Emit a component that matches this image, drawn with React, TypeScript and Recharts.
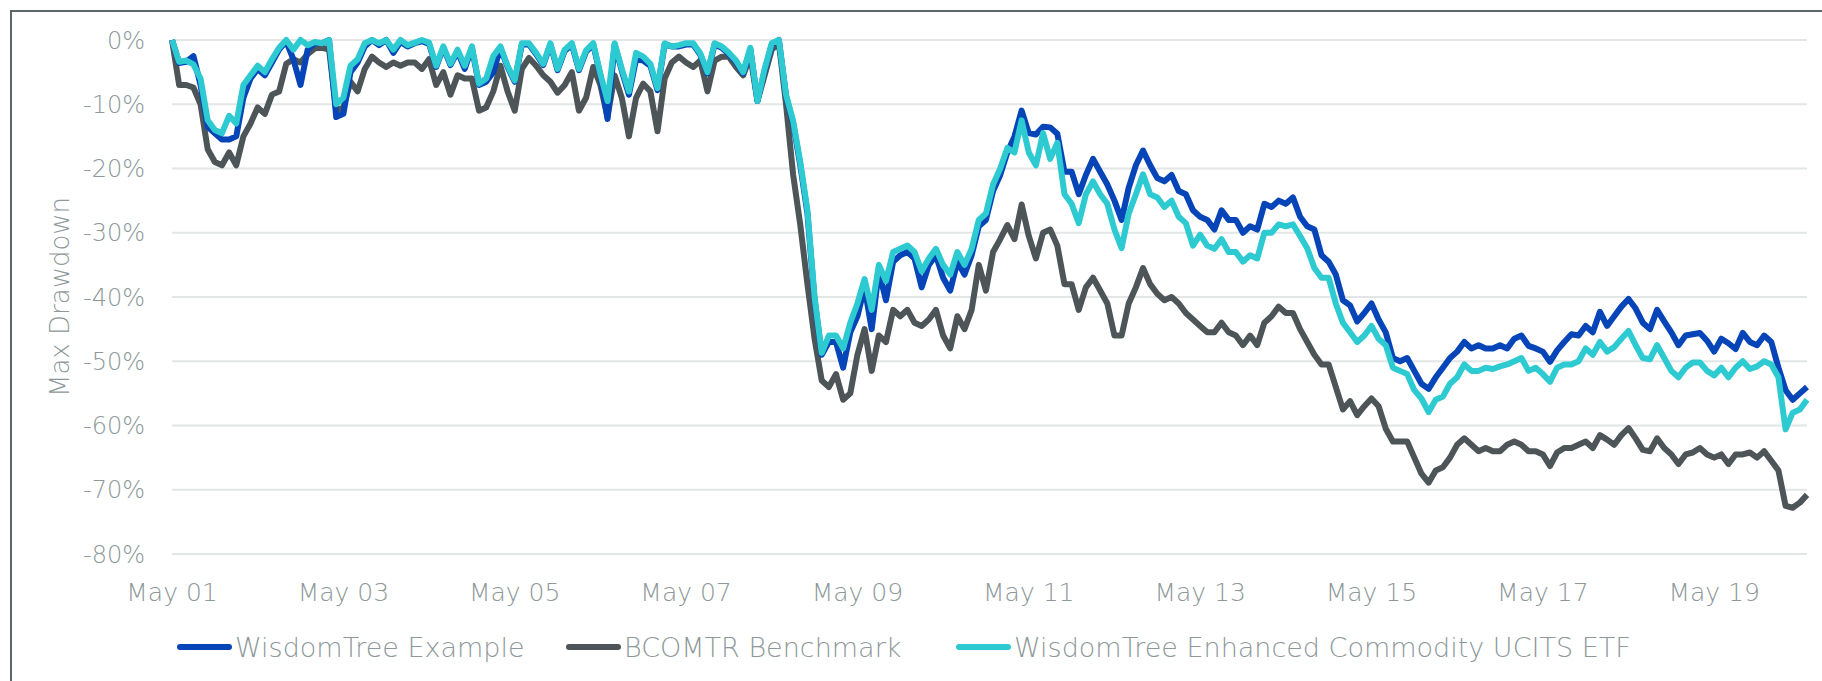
import { LineChart, Line, XAxis, YAxis, CartesianGrid, Legend } from "recharts";

// months since May 2001, tick every two years
const tickMonths = [0, 24, 48, 72, 96, 120, 144, 168, 192, 216];
const tickLabels = ["May 01", "May 03", "May 05", "May 07", "May 09", "May 11", "May 13", "May 15", "May 17", "May 19"];
const yTicks = [0, -10, -20, -30, -40, -50, -60, -70, -80];

const seriesNames = ["WisdomTree Example", "BCOMTR Benchmark", "WisdomTree Enhanced Commodity UCITS ETF"];
const seriesColors = ["#0645b7", "#4d5558", "#2ecad2"];

// monthly max drawdown, %
const example = [
  0, -3.6, -3.4, -2.5, -7, -13.5, -14.5, -15.5, -15.5, -15, -9, -6, -4.5, -5.5, -3.5, -1.5, -0.2, -3, -7, -1.5, -0.5, -0.5, 0, -12, -11.5, -5, -3.5, -1, 0, -0.8, 0, -2, -0.3, -1, -0.5, -0.2, -0.6, -4.2, -1.2, -3.9, -1.8, -4.5,
  -1.2, -7, -6.5, -5, -1.2, -4.2, -6.5, -0.7, -0.7, -2.2, -3.9, -0.7, -4.7, -1.7, -0.7, -4.7, -1.8, -0.7, -5.5, -12.3, -0.7, -4.8, -8.5, -3, -3.2, -4, -7.8, -0.7, -1, -1, -0.7, -0.7, -2.3, -5.2, -0.7, -1.2, -2.2, -3.4, -5.2, -1.4, -9.5, -4.8,
  -0.7, 0, -8.7, -13, -19.5, -27, -40.5, -49, -47, -47, -51, -45.5, -43, -38.5, -45, -36, -40.5, -34.5, -33.5, -33, -34, -38.5, -35, -33.5, -37, -39, -34.5, -36.5, -33.5, -29, -28, -23.5, -21, -17.5,
  -15, -11, -14.5, -14.7, -13.5, -13.6, -14.6, -20.5, -20.5, -24, -21, -18.5, -20.5, -22.5, -25, -28, -23, -19.5, -17.2, -19.5, -21.5, -22, -21, -23.5, -24, -26.5, -27.5, -28, -29.5, -26.5, -28, -28, -30, -29, -29.5, -25.5, -26, -25, -25.5, -24.5, -27.5,
  -29, -29.5, -33.5, -34.5, -36.5, -40.5, -41.3, -43.8, -42.5, -41, -43.5, -45.5, -49.5, -50, -49.5, -51.5, -53.5, -54.3, -52.5, -51, -49.5, -48.5, -47, -48, -47.5, -48, -48, -47.5, -48, -46.5, -46, -47.6, -48, -48.5, -50.1, -48.3, -47,
  -45.8, -46, -44.5, -45.5, -42.3, -44.5, -43, -41.5, -40.3, -41.8, -44, -45, -42, -43.8, -45.5, -47.5, -46, -45.8, -45.6, -46.8, -48.5, -46.5, -47.2, -48.1, -45.6, -47, -47.5, -46, -47, -51, -54.5, -56, -55, -54,
];

const benchmark = [
  0, -7, -7, -7.4, -10, -17, -19, -19.5, -17.5, -19.5, -15, -13, -10.5, -11.5, -8.5, -8, -3.7, -3, -3.5, -2.2, -1.3, -1.2, -1.5, -11, -10.5, -6.5, -8, -4.5, -2.6, -3.5, -4.2, -3.5, -4, -3.5, -3.5, -4.5, -3, -7, -5, -8.5, -5.5, -6,
  -6, -11, -10.5, -8, -4, -8, -11, -4.5, -2.8, -4, -5.5, -6.5, -8.2, -7, -5, -11, -9, -4.2, -7, -12, -5.5, -9, -15, -9, -6.8, -8, -14.2, -6, -3.5, -2.6, -3.5, -4.2, -3.2, -8, -3.2, -2.6, -2.6, -4.2, -5.5, -2.5, -9.5, -5.5,
  -1.5, -0.5, -10, -21, -28.8, -38, -46.5, -53, -54, -52, -56, -55, -49, -45, -51.5, -46, -47, -42, -43, -42, -44, -44.5, -43.5, -42, -46, -48, -43, -45, -42, -35, -39, -33, -31, -28.8,
  -31, -25.6, -30.5, -34, -30, -29.5, -32, -38, -38, -42, -38.5, -37, -39, -41, -46, -46, -41, -38.5, -35.5, -38, -39.5, -40.5, -40, -41, -42.5, -43.5, -44.5, -45.5, -45.5, -44, -45.5, -46, -47.5, -46, -47.5, -44, -43, -41.5, -42.5, -42.5, -45,
  -47, -49, -50.5, -50.5, -54, -57.5, -56.2, -58.4, -57, -55.8, -57, -60.5, -62.5, -62.5, -62.5, -65, -67.5, -68.9, -67, -66.5, -65, -63, -62, -63, -64, -63.5, -64, -64, -63, -62.5, -63, -64, -64, -64.5, -66.3, -64.2, -63.5,
  -63.5, -63, -62.5, -63.5, -61.5, -62.2, -63, -61.5, -60.4, -62, -63.8, -64, -62, -63.5, -64.5, -66, -64.5, -64.2, -63.5, -64.5, -65, -64.5, -66, -64.5, -64.5, -64.2, -65, -64, -65.5, -67, -72.5, -72.8, -72, -70.8,
];

const enhanced = [
  0, -3.4, -3.2, -3.8, -6, -12.5, -14, -14.5, -11.8, -13, -7, -5.5, -4, -5, -3, -1.2, 0, -1.5, 0, -0.8, -0.3, -0.5, 0, -10, -9, -4, -3, -0.5, 0, -0.5, 0, -1.5, 0, -0.8, -0.4, 0, -0.4, -4, -1, -3.7, -1.5, -4,
  -1, -6.8, -6, -2.5, -1, -4, -6.3, -0.5, -0.5, -2, -3.7, -0.5, -4.5, -1.5, -0.5, -4.5, -1.6, -0.5, -5.3, -9.5, -0.5, -4.5, -8, -2, -2.6, -3.7, -7.5, -0.5, -1, -0.8, -0.5, -0.5, -2.1, -5, -0.5, -1, -2, -3.2, -5, -1.2, -9.5, -4.5,
  -0.5, 0, -8.5, -12.6, -19, -26.5, -40, -48.7, -46, -46, -48, -44, -41, -37.2, -42, -35, -37.5, -33, -32.5, -32, -33, -36, -34, -32.5, -35, -36.5, -33, -35, -32.5, -28, -27, -22.5, -20, -16.8,
  -17.5, -12.5, -17.5, -19.5, -14.5, -18.5, -16, -24, -25.5, -28.5, -24, -22, -24, -25.5, -29.5, -32.4, -27, -24, -20.9, -24, -24.5, -26, -25, -27.5, -28.5, -32, -30.3, -32, -32.5, -31, -33, -33, -34.5, -33.5, -34, -30, -30, -28.7, -29, -28.7, -30.5,
  -32.4, -35.5, -37, -37, -41, -44, -45.5, -47, -46, -44.5, -46.5, -47.5, -51, -51.5, -52, -54.5, -55.8, -57.9, -56, -55.5, -53.5, -52.5, -50.5, -51.5, -51.5, -51, -51.2, -50.8, -50.5, -50, -49.5, -51.5, -51, -52, -53.2, -51, -50.5,
  -50.5, -50, -48, -49, -47, -48.5, -47.8, -46.5, -45.3, -47.5, -49.5, -49.7, -47.5, -49.5, -51.5, -52.5, -51, -50.2, -50.2, -51.5, -52.2, -51, -52.5, -51, -50, -51.2, -50.8, -50, -50.5, -52.5, -60.6, -58, -57.5, -56,
];

const data = example.map((v, i) => ({
  month: i,
  example: v,
  benchmark: benchmark[i],
  enhanced: enhanced[i],
}));

const FONT = "'DejaVu Sans', sans-serif";
const TEXT = "#8d989a";

const legendLeft = [177, 566, 956];

const LegendBox = () => (
  <div style={{ position: "relative", width: 1822, height: 36, fontFamily: FONT, fontWeight: 200 }}>
    {seriesNames.map((name, i) => (
      <div
        key={name}
        style={{ position: "absolute", left: legendLeft[i], top: 0, height: 36, display: "flex", alignItems: "center", whiteSpace: "nowrap" }}
      >
        <span style={{ display: "inline-block", width: 55, height: 6, borderRadius: 3, background: seriesColors[i] }} />
        <span style={{ marginLeft: 3, fontSize: 27, color: TEXT }}>{name}</span>
      </div>
    ))}
  </div>
);

const YLabel = (props: any) => {
  const vb = props.viewBox || {};
  const cy = (vb.y || 0) + (vb.height || 0) / 2;
  return (
    <text
      x={60}
      y={cy}
      transform={`rotate(-90 60 ${cy})`}
      textAnchor="middle"
      dominantBaseline="central"
      fill={TEXT}
      fontSize={26}
      fontFamily={FONT}
      fontWeight={200}
    >
      Max Drawdown
    </text>
  );
};

export default function App() {
  return (
    <div style={{ position: "relative", width: 1822, height: 681, background: "#fff", overflow: "hidden" }}>
      <style>{"body{margin:0;overflow:hidden}"}</style>
      <div
        style={{
          position: "absolute",
          left: 10,
          top: 10,
          width: 1840,
          height: 700,
          border: "2px solid #5d676a",
        }}
      />
      <div style={{ position: "absolute", left: 0, top: 0 }}>
        <LineChart width={1822} height={681} data={data} margin={{ top: 40, right: 15, bottom: 97, left: 0 }}>
          <CartesianGrid vertical={false} stroke="#e2e6e6" strokeWidth={2} />
          <XAxis
            dataKey="month"
            type="number"
            domain={[0, 229]}
            ticks={tickMonths}
            interval={0}
            height={30}
            tickFormatter={(v: number) => tickLabels[tickMonths.indexOf(v)]}
            axisLine={false}
            tickLine={false}
            tickSize={0}
            tickMargin={29}
            tick={{ fill: TEXT, fontSize: 25, fontFamily: FONT, fontWeight: 200 }}
          />
          <YAxis
            type="number"
            domain={[-80, 0]}
            ticks={yTicks}
            interval={0}
            width={172}
            tickFormatter={(v: number) => `${v}%`}
            axisLine={false}
            tickLine={false}
            tickSize={0}
            tickMargin={27}
            tick={{ fill: TEXT, fontSize: 24, fontFamily: FONT, fontWeight: 200 }}
            label={{ content: YLabel }}
          />
          <Legend
            verticalAlign="middle"
            align="center"
            layout="horizontal"
            wrapperStyle={{ top: 629, left: 0, width: 1822, height: 36 }}
            content={() => <LegendBox />}
          />
          <Line
            type="linear"
            dataKey="benchmark"
            name={seriesNames[1]}
            stroke={seriesColors[1]}
            strokeWidth={6}
            strokeLinejoin="round"
            dot={false}
            isAnimationActive={false}
          />
          <Line
            type="linear"
            dataKey="example"
            name={seriesNames[0]}
            stroke={seriesColors[0]}
            strokeWidth={6}
            strokeLinejoin="round"
            dot={false}
            isAnimationActive={false}
          />
          <Line
            type="linear"
            dataKey="enhanced"
            name={seriesNames[2]}
            stroke={seriesColors[2]}
            strokeWidth={6}
            strokeLinejoin="round"
            dot={false}
            isAnimationActive={false}
          />
        </LineChart>
      </div>
    </div>
  );
}
